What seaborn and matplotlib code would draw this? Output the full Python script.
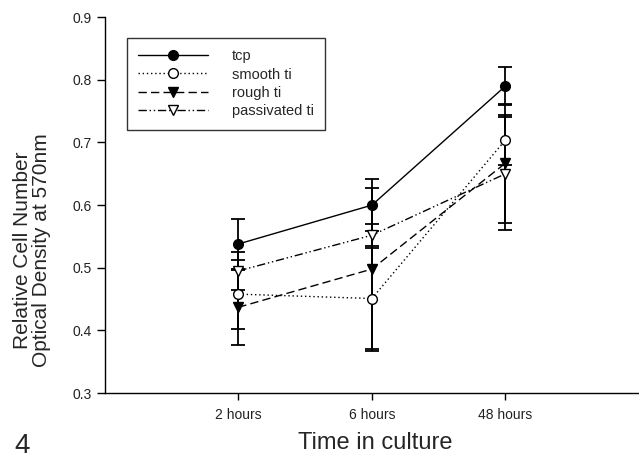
import matplotlib
matplotlib.use("Agg")
import matplotlib.pyplot as plt
import seaborn as sns
import pandas as pd
import numpy as np

times = ["2 hours", "6 hours", "48 hours"]
series = ["tcp", "smooth ti", "rough ti", "passivated ti"]
tcp = [0.538, 0.600, 0.790]
smooth_ti = [0.458, 0.451, 0.704]
rough_ti = [0.437, 0.498, 0.667]
passivated_ti = [0.495, 0.552, 0.650]
tcp_err = [0.040, 0.042, 0.030]
smooth_err = [0.055, 0.080, 0.040]
rough_err = [0.060, 0.130, 0.095]
passivated_err = [0.030, 0.018, 0.090]

values = [tcp, smooth_ti, rough_ti, passivated_ti]
errors = [tcp_err, smooth_err, rough_err, passivated_err]

rows = []
for s, v, e in zip(series, values, errors):
    for i, t in enumerate(times):
        rows.append({"series": s, "pos": i + 1, "value": v[i], "err": e[i]})
df = pd.DataFrame(rows)

sns.set_style("ticks")
plt.rcParams["font.family"] = ["Liberation Sans", "DejaVu Sans"]

fig = plt.figure(figsize=(6.39, 4.62), dpi=100)
ax = fig.add_axes([0.164, 0.149, 0.836, 0.814])

styles = {
    "tcp": dict(ls="-", marker="o", mfc="black"),
    "smooth ti": dict(ls=(0, (1, 2)), marker="o", mfc="white"),
    "rough ti": dict(ls=(0, (6, 3)), marker="v", mfc="black"),
    "passivated ti": dict(ls=(0, (6, 2, 1, 2, 1, 2)), marker="v", mfc="white"),
}

for s in series:
    d = df[df.series == s]
    st = styles[s]
    ax.errorbar(d["pos"], d["value"], yerr=d["err"], fmt="none", ecolor="black",
                elinewidth=1.3, capsize=5, capthick=1.3, zorder=2)
    sns.lineplot(data=d, x="pos", y="value", ax=ax, color="black", linewidth=1.0,
                 linestyle=st["ls"], marker=st["marker"], markersize=7,
                 markerfacecolor=st["mfc"], markeredgecolor="black",
                 markeredgewidth=1.0, label=s, zorder=3)

ax.set_xlim(0, 4)
ax.set_ylim(0.3, 0.9)
ax.set_xticks([1, 2, 3])
ax.set_xticklabels(times)
ax.set_yticks(np.arange(0.3, 0.91, 0.1))
ax.set_yticklabels([f"{v:.1f}" for v in np.arange(0.3, 0.91, 0.1)])
ax.tick_params(axis="both", labelsize=10, length=6, width=1, color="black", labelcolor="#222222")
ax.tick_params(axis="x", length=5, pad=6)
for sp in ["top", "right"]:
    ax.spines[sp].set_visible(False)
for sp in ["left", "bottom"]:
    ax.spines[sp].set_color("black")
    ax.spines[sp].set_linewidth(1.0)

ax.set_xlabel("Time in culture", fontsize=17)
ax.xaxis.set_label_coords(0.507, -0.133)
ax.xaxis.label.set_va("center")
ax.set_ylabel("Relative Cell Number\nOptical Density at 570nm", fontsize=15,
              linespacing=1.0)
ax.yaxis.set_label_coords(-0.101, 0.38)

leg = ax.legend(loc="upper left", bbox_to_anchor=(0.027, 0.965), fontsize=10.5,
                handlelength=4.8, frameon=True, fancybox=False, edgecolor="black",
                borderpad=0.8, labelspacing=0.3, handletextpad=1.6)
leg.get_frame().set_linewidth(1.0)

fig.text(0.022, 0.02, "4", fontsize=20)

fig.savefig("out.png", dpi=100)
